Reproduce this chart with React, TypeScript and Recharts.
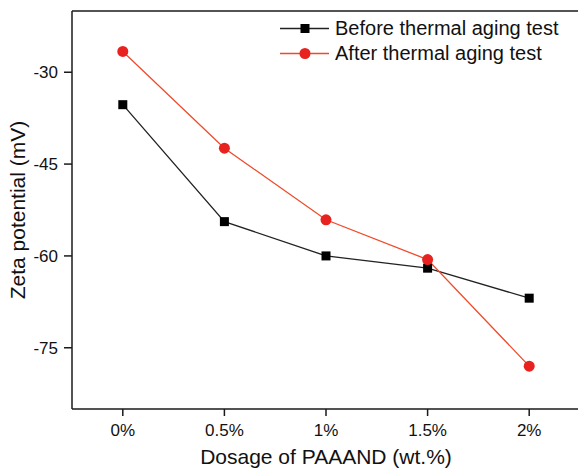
import React from 'react';
import { LineChart, Line, XAxis, YAxis, ReferenceLine } from 'recharts';

// dosage of PAAAND (wt.%)
const doses = [0, 0.5, 1, 1.5, 2];
const beforeAging = [-35.3, -54.4, -60.0, -62.0, -66.9];
const afterAging = [-26.6, -42.4, -54.1, -60.6, -78.0];
const yTicks = [-30, -45, -60, -75];

const data = doses.map((d, i) => ({ dose: d, before: beforeAging[i], after: afterAging[i] }));

const AXIS = '#1a1a1a';
const RED = '#e8231f';
const RED_LINE = '#f04a2a';
const font = 'Liberation Sans, Arial, sans-serif';

const SquareDot = (props: any) => {
  const { cx, cy, index } = props;
  if (cx == null || cy == null) return null;
  return <rect key={`sq-${index}`} x={cx - 4.5} y={cy - 4.5} width={9} height={9} fill="#000" />;
};

const CircleDot = (props: any) => {
  const { cx, cy, index } = props;
  if (cx == null || cy == null) return null;
  return <circle key={`ci-${index}`} cx={cx} cy={cy} r={5.5} fill={RED} />;
};

// legend drawn as an overlay so it doesn't push the plot down
const LegendBox = () => {
  const rows = [
    { label: 'Before thermal aging test', line: '#222', marker: 'square' },
    { label: 'After thermal aging test', line: RED_LINE, marker: 'circle' },
  ];
  return (
    <div style={{ position: 'absolute', left: 280, top: 16, fontFamily: font, fontSize: 20, color: '#111' }}>
      {rows.map((r) => (
        <div key={r.label} style={{ display: 'flex', alignItems: 'center', height: 25 }}>
          <svg width={55} height={25}>
            <line x1={0} y1={12.5} x2={49} y2={12.5} stroke={r.line} strokeWidth={1.3} />
            {r.marker === 'square' ? (
              <rect x={20.5} y={8} width={9} height={9} fill="#000" />
            ) : (
              <circle cx={25} cy={12.5} r={5.5} fill={RED} />
            )}
          </svg>
          <span style={{ lineHeight: '25px', whiteSpace: 'nowrap' }}>{r.label}</span>
        </div>
      ))}
    </div>
  );
};

export default function App() {
  return (
    <div style={{ position: 'absolute', left: 0, top: 0, width: 578, height: 468, overflow: 'hidden', background: '#fff' }}>
      <LineChart width={600} height={468} data={data} margin={{ top: 11, right: 20, bottom: 29, left: 10 }}>
        <XAxis
          dataKey="dose"
          type="number"
          domain={[-0.25, 2.25]}
          ticks={doses}
          tickFormatter={(v: number) => `${v}%`}
          height={30}
          tickSize={7}
          tickMargin={8}
          stroke={AXIS}
          strokeWidth={1.5}
          tick={{ fill: '#111', fontSize: 17, fontFamily: font }}
          label={{ value: 'Dosage of PAAAND (wt.%)', position: 'bottom', offset: 10, fill: '#111', fontSize: 21, fontFamily: font }}
        />
        <YAxis
          type="number"
          domain={[-85, -20]}
          ticks={yTicks}
          width={62}
          tickSize={8}
          tickMargin={6}
          stroke={AXIS}
          strokeWidth={1.5}
          tick={{ fill: '#111', fontSize: 17, fontFamily: font }}
          label={{ value: 'Zeta potential (mV)', angle: -90, position: 'insideLeft', offset: 8, fill: '#111', fontSize: 21, fontFamily: font, style: { textAnchor: 'middle' } }}
        />
        <ReferenceLine y={-20} stroke={AXIS} strokeWidth={1.5} />
        <Line type="linear" dataKey="before" stroke="#222" strokeWidth={1.3} dot={SquareDot} activeDot={false} isAnimationActive={false} />
        <Line type="linear" dataKey="after" stroke={RED_LINE} strokeWidth={1.3} dot={CircleDot} activeDot={false} isAnimationActive={false} />
      </LineChart>
      <LegendBox />
    </div>
  );
}
